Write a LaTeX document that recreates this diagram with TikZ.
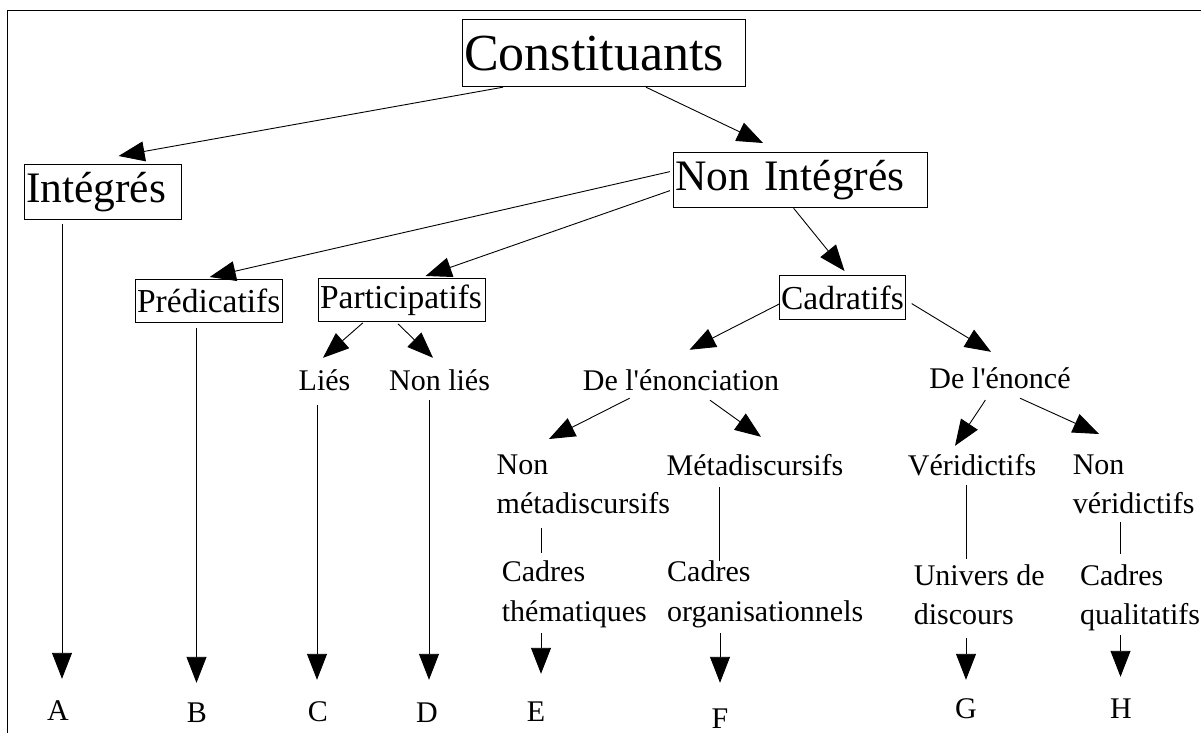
\documentclass[tikz,border=0pt]{standalone}
\usepackage{fontspec}
\setmainfont{Liberation Serif}
\newfontfamily\lsfont{Liberation Serif}
\usetikzlibrary{arrows.meta,calc}
\tikzset{
  bx/.style={draw, line width=1.2pt, inner xsep=1.5pt, inner ysep=0pt, anchor=north west, align=left},
  huge/.style={font=\lsfont\fontsize{52}{60}\selectfont},
  big/.style={font=\lsfont\fontsize{43.5}{50}\selectfont},
  mid/.style={font=\lsfont\fontsize{33.5}{40}\selectfont},
  sm/.style={inner sep=0pt, align=left, font=\lsfont\fontsize{30}{39.5}\selectfont},
  arr/.style={line width=0.9pt, -{Triangle[length=26pt,width=20pt]}},
  ln/.style={line width=0.9pt}
}
\begin{document}
\begin{tikzpicture}[x=1pt,y=-1pt]
\useasboundingbox (0,0) rectangle (1201,733);
\draw[line width=1.5pt] (7.5,733) -- (7.5,10.5) -- (1201,10.5);
% boxes
\node[bx,huge,minimum height=67pt,text width=280pt] (cons) at (462,19) {Constituants};
\node[bx,big,minimum height=55pt,text width=154pt] (integ) at (24,164) {Intégrés};
\node[bx,big,minimum height=55pt,text width=251pt] (nonint) at (673,152) {Non Intégrés};
\node[bx,mid,minimum height=43pt,text width=144pt] (pred) at (135,279) {Prédicatifs};
\node[bx,mid,minimum height=43pt,text width=164pt] (part) at (318,278) {Participatifs};
\node[bx,mid,minimum height=44pt,text width=123pt] (cadr) at (779,275) {Cadratifs};
% small labels
\node[sm,anchor=base] (lies) at (324.5,390) {Liés\strut};
\node[sm,anchor=base] (nonlies) at (439.5,390) {Non liés\strut};
\node[sm,anchor=base] (denonc) at (681,390) {De l'énonciation\strut};
\node[sm,anchor=base] (denonce) at (1000,388) {De l'énoncé\strut};
\node[sm,anchor=north west] (nonmeta) at (496.5,446.35) {Non\strut\\métadiscursifs\strut};
\node[sm,anchor=base] (meta) at (755,475) {Métadiscursifs\strut};
\node[sm,anchor=base] (verid) at (972,475) {Véridictifs\strut};
\node[sm,anchor=north west] (nonverid) at (1072.6,446.35) {Non\strut\\véridictifs\strut};
\node[sm,anchor=north west] (cadthem) at (501.7,554) {Cadres\strut\\thématiques\strut};
\node[sm,anchor=north west] (cadorg) at (667,554) {Cadres\strut\\organisationnels\strut};
\node[sm,anchor=north west] (univ) at (913.6,557.35) {Univers de\strut\\discours\strut};
\node[sm,anchor=north west] (cadqual) at (1079.8,557.35) {Cadres\strut\\qualitatifs\strut};
% letters
\node[sm,anchor=base] (lA) at (58,720) {A\strut};
\node[sm,anchor=base] (lB) at (197,722.7) {B\strut};
\node[sm,anchor=base] (lC) at (318,721.7) {C\strut};
\node[sm,anchor=base] (lD) at (427,722.7) {D\strut};
\node[sm,anchor=base] (lE) at (536,721.7) {E\strut};
\node[sm,anchor=base] (lF) at (720,728) {F\strut};
\node[sm,anchor=base] (lG) at (966,718) {G\strut};
\node[sm,anchor=base] (lH) at (1121,718) {H\strut};
% connectors
\draw[arr] ($(cons.south west)+(41,0)$) -- ($(integ.north west)+(94.6,-8)$);
\draw[arr] ($(cons.south west)+(184,0)$) -- ($(nonint.north west)+(90,-9)$);
\draw[arr] ($(nonint.west)+(-3,-8.5)$) -- ($(pred.north west)+(74.7,-2)$);
\draw[arr] ($(nonint.west)+(-3,10.5)$) -- ($(part.north west)+(107.6,-2)$);
\draw[arr] ($(nonint.south west)+(120.6,0)$) -- ($(cadr.north west)+(65.5,-4)$);
\draw[arr] ($(part.south west)+(44.8,0.7)$) -- ($(lies.north)+(-1.5,-4.35)$);
\draw[arr] ($(part.south west)+(80,1.7)$) -- ($(nonlies.north)+(-6.5,-4.35)$);
\draw[arr] ($(cadr.west)+(0,6.5)$) -- ($(denonc.north)+(8.5,-12.35)$);
\draw[arr] ($(cadr.east)+(5.5,6)$) -- ($(denonce.north)+(-9,-8.35)$);
\draw[arr] ($(denonc.south)+(-51.4,-3.85)$) -- ($(nonmeta.north west)+(52.5,-7.35)$);
\draw[arr] ($(denonc.south)+(29,-1.85)$) -- ($(meta.north)+(6,-10.35)$);
\draw[arr] ($(denonce.south)+(-14.6,0)$) -- ($(verid.north)+(-17,-1.35)$);
\draw[arr] ($(denonce.south)+(20,-1.85)$) -- ($(nonverid.north west)+(26.4,-12.35)$);
\draw[arr] ($(integ.south west)+(38,3.7)$) -- ($(lA.north)+(4,-13.35)$);
\draw[arr] ($(pred.south west)+(61.5,5)$) -- ($(lB.north)+(-0.5,-12.05)$);
\draw[arr] ($(lies.south)+(-7.5,3.15)$) -- ($(lC.north)+(-1,-14.05)$);
\draw[arr] ($(nonlies.south)+(-10.5,-1.85)$) -- ($(lD.north)+(2,-15.05)$);
\draw[ln] ($(nonmeta.south west)+(44.5,2.65)$) -- ($(cadthem.north west)+(39.3,-1)$);
\draw[ln] ($(meta.south)+(-35.4,0.15)$) -- ($(cadorg.north west)+(52.6,7)$);
\draw[ln] ($(verid.south)+(-6,-1.85)$) -- ($(univ.north west)+(52.4,1.65)$);
\draw[ln] ($(nonverid.south west)+(47.9,-3.35)$) -- ($(cadqual.north west)+(40.7,-3.35)$);
\draw[arr] ($(cadthem.south west)+(39.3,0)$) -- ($(lE.north)+(5,-20.05)$);
\draw[arr] ($(cadorg.south west)+(53,0)$) -- ($(lF.north)+(0,-17.35)$);
\draw[arr] ($(univ.south west)+(52.4,1.65)$) -- ($(lG.north)+(0,-10.35)$);
\draw[arr] ($(cadqual.south west)+(40.7,-1.35)$) -- ($(lH.north)+(-0.5,-13.35)$);
\end{tikzpicture}
\end{document}
